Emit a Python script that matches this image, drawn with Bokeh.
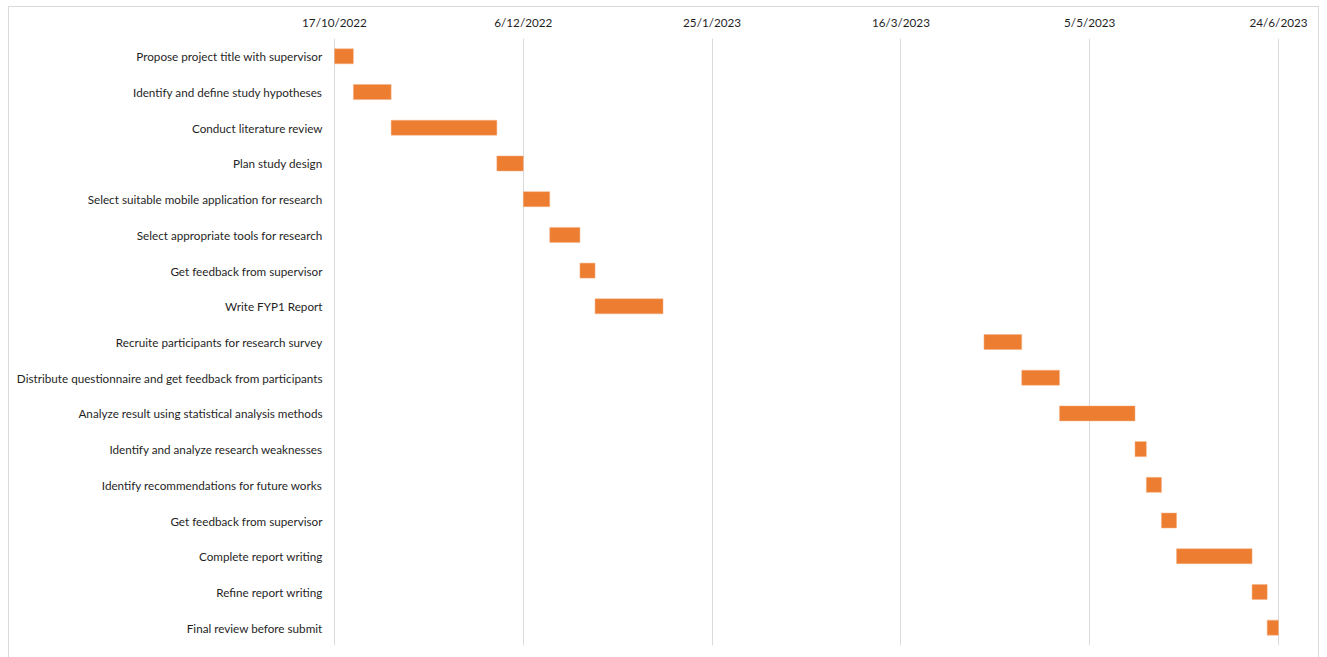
import pandas as pd
from bokeh.plotting import figure
from bokeh.models import FixedTicker, ColumnDataSource, Range1d
from bokeh.embed import file_html
from bokeh.resources import INLINE

tasks = [
    "Propose project title with supervisor",
    "Identify and define study hypotheses",
    "Conduct literature review",
    "Plan study design",
    "Select suitable mobile application for research",
    "Select appropriate tools for research",
    "Get feedback from supervisor",
    "Write FYP1 Report",
    "Recruite participants for research survey",
    "Distribute questionnaire and get feedback from participants",
    "Analyze result using statistical analysis methods",
    "Identify and analyze research weaknesses",
    "Identify recommendations for future works",
    "Get feedback from supervisor",
    "Complete report writing",
    "Refine report writing",
    "Final review before submit",
]
start_dates = [
    "2022-10-17", "2022-10-22", "2022-11-01", "2022-11-29", "2022-12-06",
    "2022-12-13", "2022-12-21", "2022-12-25", "2023-04-07", "2023-04-17",
    "2023-04-27", "2023-05-17", "2023-05-20", "2023-05-24", "2023-05-28",
    "2023-06-17", "2023-06-21",
]
durations_days = [5, 10, 28, 7, 7, 8, 4, 18, 10, 10, 20, 3, 4, 4, 20, 4, 3]
tick_labels = ["17/10/2022", "6/12/2022", "25/1/2023", "16/3/2023", "5/5/2023", "24/6/2023"]

starts = pd.to_datetime(start_dates)
ends = starts + pd.to_timedelta(durations_days, unit="D")
ypos = list(range(len(tasks)))

tick_dates = pd.to_datetime(tick_labels, format="%d/%m/%Y")
tick_ms = [float(t.value // 10**6) for t in tick_dates]

src = ColumnDataSource(dict(y=ypos, left=starts, right=ends))

# outer box: 8..1320 horizontally, starting at y=6 and running past the window
OX, OY = 8, 6
W = 1311
H = 660
# small padding so the edge gridlines stay visible
pad_px = 1
day_ms = 86400000.0
px_per_day = (1278 - 334) / ((tick_ms[-1] - tick_ms[0]) / day_ms)
pad_ms = pad_px / px_per_day * day_ms
FL, FR, FT, FB = 334 - pad_px, 1278 + pad_px, 38, 645
p = figure(
    width=W, height=H, output_backend="svg", toolbar_location=None,
    x_axis_type="datetime", x_axis_location="above",
    x_range=Range1d(tick_ms[0] - pad_ms, tick_ms[-1] + pad_ms),
    y_range=Range1d(len(tasks) - 0.5, -0.5),
    min_border_left=FL - OX - 1, min_border_right=(OX + 1 + W) - FR,
    min_border_top=FT - OY - 1, min_border_bottom=H - (FB - OY - 1),
)
p.margin = (OY, 0, 0, OX)
p.styles = {"border": "1px solid #d9d9d9"}
p.outline_line_color = None
p.background_fill_color = "white"
p.border_fill_color = "white"

p.hbar(y="y", left="left", right="right", height=0.42, source=src,
       fill_color="#ED7D31", line_color="#F4B183", line_width=0.5)

font = "Lato"
xa = p.xaxis[0]
xa.ticker = FixedTicker(ticks=tick_ms)
xa.major_label_overrides = {t: l for t, l in zip(tick_ms, tick_labels)}
xa.axis_line_color = None
xa.major_tick_line_color = None
xa.minor_tick_line_color = None
xa.major_tick_out = 0
xa.major_tick_in = 0
xa.major_label_text_font = font
xa.major_label_text_font_size = "11.7px"
xa.major_label_text_color = "#1f1f1f"
xa.major_label_standoff = 10

ya = p.yaxis[0]
ya.ticker = FixedTicker(ticks=ypos)
ya.major_label_overrides = {i: t for i, t in enumerate(tasks)}
ya.axis_line_color = None
ya.major_tick_line_color = None
ya.minor_tick_line_color = None
ya.major_tick_out = 0
ya.major_tick_in = 0
ya.major_label_text_font = font
ya.major_label_text_font_size = "11.7px"
ya.major_label_text_color = "#1f1f1f"
ya.major_label_standoff = 11

p.xgrid.grid_line_color = "#d9d9d9"
p.xgrid.ticker = FixedTicker(ticks=tick_ms)
p.ygrid.grid_line_color = None

open("out.html", "w").write(file_html(p, INLINE))
